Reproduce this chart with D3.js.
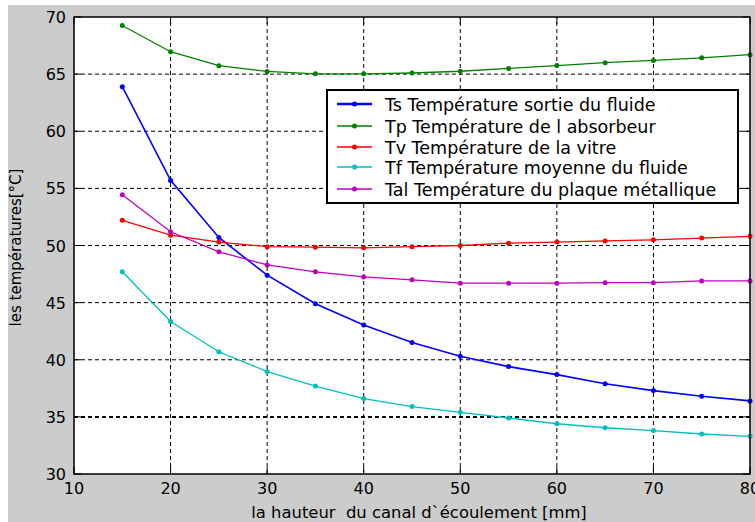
<!DOCTYPE html>
<html>
<head>
<meta charset="utf-8">
<script src="https://cdn.jsdelivr.net/npm/d3@7"></script>
<style>
  body { margin: 0; background: #fff; }
  svg text { font-family: "DejaVu Sans", Arial, sans-serif; fill: #000; }
</style>
</head>
<body>
<div id="chart"></div>
<script>
// hauteur du canal [mm]
var hauteur = [15, 20, 25, 30, 35, 40, 45, 50, 55, 60, 65, 70, 75, 80];

// températures [°C]
var Ts  = [63.9, 55.7, 50.7, 47.4, 44.9, 43.05, 41.5, 40.3, 39.4, 38.7, 37.9, 37.3, 36.8, 36.4];
var Tp  = [69.26, 66.96, 65.74, 65.24, 65.03, 65.03, 65.1, 65.25, 65.5, 65.75, 66.0, 66.2, 66.43, 66.7];
var Tv  = [52.2, 50.9, 50.3, 49.9, 49.85, 49.8, 49.9, 50.0, 50.2, 50.3, 50.4, 50.5, 50.65, 50.8];
var Tf  = [47.7, 43.35, 40.7, 38.97, 37.7, 36.6, 35.9, 35.4, 34.9, 34.4, 34.05, 33.8, 33.5, 33.3];
var Tal = [54.45, 51.2, 49.45, 48.3, 47.7, 47.25, 47.0, 46.7, 46.7, 46.7, 46.75, 46.75, 46.9, 46.9];

var xTicks = [10, 20, 30, 40, 50, 60, 70, 80];
var yTicks = [30, 35, 40, 45, 50, 55, 60, 65, 70];

var seriesNames = [
  "Ts Température sortie du fluide",
  "Tp Température de l absorbeur",
  "Tv Température de la vitre",
  "Tf Température moyenne du fluide",
  "Tal Température du plaque métallique"
];
var seriesValues = [Ts, Tp, Tv, Tf, Tal];
var seriesColors = ["#0000ff", "#008000", "#ff0000", "#00bfbf", "#bf00bf"];

var W = 755, H = 522;
var margin = {top: 17, right: 5, bottom: 48, left: 74};

var svg = d3.select("#chart").append("svg")
    .attr("width", W)
    .attr("height", H);

// fond gris de la figure
svg.append("rect")
    .attr("x", 8).attr("y", 5)
    .attr("width", W - 8).attr("height", H - 5)
    .attr("fill", "#cccccc");

var x = d3.scaleLinear().domain([10, 80]).range([margin.left, W - margin.right]);
var y = d3.scaleLinear().domain([30, 70]).range([H - margin.bottom, margin.top]);

// zone des axes
svg.append("rect")
    .attr("x", x(10)).attr("y", y(70))
    .attr("width", x(80) - x(10)).attr("height", y(30) - y(70))
    .attr("fill", "#fff");

// grille
var grid = svg.append("g");
grid.selectAll(".gx").data(xTicks.slice(1, -1)).enter().append("line")
    .attr("x1", function(d){ return x(d); }).attr("x2", function(d){ return x(d); })
    .attr("y1", y(30)).attr("y2", y(70))
    .attr("stroke", "#000").attr("stroke-width", 1)
    .attr("stroke-dasharray", "4,3");
grid.selectAll(".gy").data(yTicks.slice(1, -1)).enter().append("line")
    .attr("x1", x(10)).attr("x2", x(80))
    .attr("y1", function(d){ return y(d); }).attr("y2", function(d){ return y(d); })
    .attr("stroke", "#000")
    .attr("stroke-width", function(d){ return d == 35 ? 2 : 1; })
    .attr("stroke-dasharray", "4,3");

// ticks intérieurs sur les 4 côtés
var tl = 7;
var ticks = svg.append("g").attr("stroke", "#000").attr("stroke-width", 1);
xTicks.forEach(function(d){
  ticks.append("line").attr("x1", x(d)).attr("x2", x(d)).attr("y1", y(30)).attr("y2", y(30) - tl);
  ticks.append("line").attr("x1", x(d)).attr("x2", x(d)).attr("y1", y(70)).attr("y2", y(70) + tl);
});
yTicks.forEach(function(d){
  ticks.append("line").attr("x1", x(10)).attr("x2", x(10) + tl).attr("y1", y(d)).attr("y2", y(d));
  ticks.append("line").attr("x1", x(80)).attr("x2", x(80) - tl).attr("y1", y(d)).attr("y2", y(d));
});

// courbes
var line = d3.line()
    .x(function(d, i){ return x(hauteur[i]); })
    .y(function(d){ return y(d); });

seriesValues.forEach(function(vals, k){
  svg.append("path")
      .datum(vals)
      .attr("d", line)
      .attr("fill", "none")
      .attr("stroke", seriesColors[k])
      .attr("stroke-width", k == 0 ? 1.6 : 1.3);
  svg.selectAll(".m" + k).data(vals).enter().append("circle")
      .attr("cx", function(d, i){ return x(hauteur[i]); })
      .attr("cy", function(d){ return y(d); })
      .attr("r", 2.5)
      .attr("fill", seriesColors[k]);
});

// cadre
svg.append("rect")
    .attr("x", x(10)).attr("y", y(70))
    .attr("width", x(80) - x(10)).attr("height", y(30) - y(70))
    .attr("fill", "none").attr("stroke", "#000").attr("stroke-width", 1.5);

// libellés des ticks
svg.selectAll(".yl").data(yTicks).enter().append("text")
    .attr("x", x(10) - 8)
    .attr("y", function(d){ return y(d) + 6; })
    .attr("text-anchor", "end")
    .style("font-size", "16px")
    .text(function(d){ return d; });

svg.selectAll(".xl").data(xTicks).enter().append("text")
    .attr("x", function(d){ return x(d); })
    .attr("y", y(30) + 20)
    .attr("text-anchor", "middle")
    .style("font-size", "16px")
    .text(function(d){ return d; });

// titres des axes
svg.append("text")
    .attr("x", (x(10) + x(80)) / 2 + 7)
    .attr("y", 518)
    .attr("text-anchor", "middle")
    .style("font-size", "16.4px")
    .attr("xml:space", "preserve")
    .text("la hauteur  du canal d`écoulement [mm]");

svg.append("text")
    .attr("transform", "translate(21," + ((y(30) + y(70)) / 2 + 2) + ") rotate(-90)")
    .attr("text-anchor", "middle")
    .style("font-size", "15px")
    .text("les températures[°C]");

// légende
var lg = svg.append("g");
lg.append("rect")
    .attr("x", 327).attr("y", 90)
    .attr("width", 411).attr("height", 113)
    .attr("fill", "#fff").attr("stroke", "#000").attr("stroke-width", 2);

var rowY = [104, 126, 147, 167, 189];
seriesNames.forEach(function(name, k){
  lg.append("line")
      .attr("x1", 337).attr("x2", 372)
      .attr("y1", rowY[k]).attr("y2", rowY[k])
      .attr("stroke", seriesColors[k])
      .attr("stroke-width", k == 0 ? 2.5 : 1.5);
  lg.append("circle")
      .attr("cx", 354.5).attr("cy", rowY[k]).attr("r", 2.5)
      .attr("fill", seriesColors[k]);
  lg.append("text")
      .attr("x", 385).attr("y", rowY[k] + 6.5)
      .style("font-size", "17.5px")
      .text(name);
});
</script>
</body>
</html>
